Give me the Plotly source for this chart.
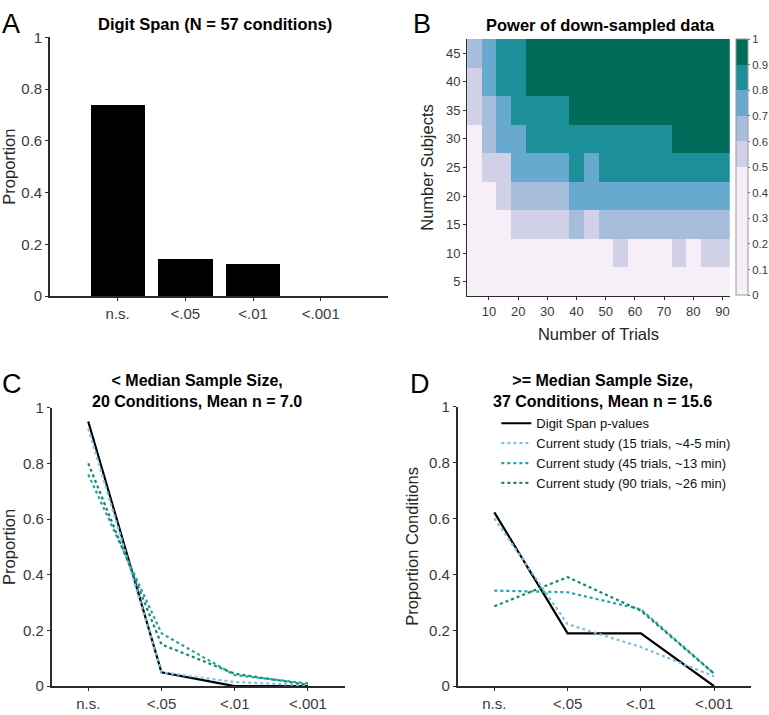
import plotly.graph_objects as go

W, H = 769, 715
FONT = "Liberation Sans, Arial, Helvetica, sans-serif"

# ---------------- data ----------------
p_categories = ["n.s.", "<.05", "<.01", "<.001"]
cat_pos = [1, 2, 3, 4]

# Panel A: Digit Span proportions (N = 57 conditions)
digit_span_all = [0.737, 0.140, 0.123, 0.0]

# Panel B: power of down-sampled data
trials = [5, 10, 15, 20, 25, 30, 35, 40, 45, 50, 55, 60, 65, 70, 75, 80, 85, 90]
subjects = [5, 10, 15, 20, 25, 30, 35, 40, 45]
power_s05 = [0.10, 0.13, 0.15, 0.17, 0.18, 0.20, 0.21, 0.22, 0.22, 0.23, 0.24, 0.24, 0.25, 0.25, 0.26, 0.26, 0.27, 0.27]
power_s10 = [0.21, 0.28, 0.33, 0.38, 0.41, 0.43, 0.44, 0.46, 0.47, 0.48, 0.51, 0.49, 0.48, 0.49, 0.51, 0.49, 0.51, 0.52]
power_s15 = [0.30, 0.40, 0.46, 0.54, 0.56, 0.58, 0.59, 0.61, 0.59, 0.62, 0.63, 0.64, 0.64, 0.65, 0.66, 0.66, 0.67, 0.67]
power_s20 = [0.37, 0.47, 0.53, 0.63, 0.66, 0.68, 0.69, 0.71, 0.72, 0.73, 0.74, 0.75, 0.75, 0.76, 0.77, 0.77, 0.78, 0.78]
power_s25 = [0.42, 0.56, 0.59, 0.72, 0.75, 0.77, 0.79, 0.81, 0.79, 0.82, 0.83, 0.84, 0.84, 0.85, 0.86, 0.86, 0.87, 0.87]
power_s30 = [0.46, 0.63, 0.72, 0.78, 0.82, 0.84, 0.86, 0.87, 0.87, 0.88, 0.88, 0.89, 0.89, 0.89, 0.905, 0.91, 0.91, 0.92]
power_s35 = [0.53, 0.66, 0.77, 0.84, 0.87, 0.89, 0.89, 0.91, 0.92, 0.93, 0.93, 0.94, 0.94, 0.94, 0.95, 0.95, 0.95, 0.96]
power_s40 = [0.57, 0.73, 0.83, 0.88, 0.91, 0.93, 0.94, 0.95, 0.96, 0.96, 0.97, 0.97, 0.97, 0.98, 0.98, 0.98, 0.98, 0.99]
power_s45 = [0.65, 0.76, 0.86, 0.89, 0.92, 0.94, 0.95, 0.96, 0.97, 0.97, 0.98, 0.98, 0.98, 0.99, 0.99, 0.99, 0.99, 0.99]
power = [power_s05, power_s10, power_s15, power_s20, power_s25,
         power_s30, power_s35, power_s40, power_s45]

power_breaks = [0.0, 0.5, 0.6, 0.7, 0.8, 0.9, 1.0]
power_colors = ["#f6eff7", "#d0d1e6", "#a6bddb", "#67a9cf", "#1c9099", "#016c59"]
cbar_ticks = [0, 0.1, 0.2, 0.3, 0.4, 0.5, 0.6, 0.7, 0.8, 0.9, 1]
cbar_labels = ["0", "0.1", "0.2", "0.3", "0.4", "0.5", "0.6", "0.7", "0.8", "0.9", "1"]

# Panel C: < median sample size
c_digit = [0.95, 0.05, 0.0, 0.0]
c_15 = [0.925, 0.05, 0.015, 0.003]
c_45 = [0.76, 0.19, 0.04, 0.01]
c_90 = [0.80, 0.15, 0.045, 0.005]

# Panel D: >= median sample size
d_digit = [0.622, 0.189, 0.189, 0.0]
d_15 = [0.60, 0.222, 0.14, 0.035]
d_45 = [0.342, 0.336, 0.275, 0.045]
d_90 = [0.286, 0.39, 0.27, 0.045]

series_names = ["Digit Span p-values",
                "Current study (15 trials, ~4-5 min)",
                "Current study (45 trials, ~13 min)",
                "Current study (90 trials, ~26 min)"]
series_colors = ["#000000", "#7cc0e6", "#1fa5a8", "#128a6e"]

prop_ticks = [0, 0.2, 0.4, 0.6, 0.8, 1]
prop_labels = ["0", "0.2", "0.4", "0.6", "0.8", "1"]
trial_ticks = [10, 20, 30, 40, 50, 60, 70, 80, 90]
subject_ticks = [5, 10, 15, 20, 25, 30, 35, 40, 45]

# ---------------- helpers ----------------
def px(x):
    return x / W

def py(y):
    return 1 - y / H

AX_COLOR = "#2b2b2b"
TICK_FONT = dict(family=FONT, size=15, color="#3a3a3a")

def base_axis(**kw):
    d = dict(showline=True, linecolor=AX_COLOR, linewidth=1.5, ticks="outside",
             ticklen=3, tickwidth=1.2, tickcolor=AX_COLOR, showgrid=False,
             zeroline=False, tickfont=TICK_FONT, fixedrange=True)
    d.update(kw)
    return d

# discrete colorscale
cs = []
for i, c in enumerate(power_colors):
    cs.append([power_breaks[i], c])
    cs.append([power_breaks[i + 1], c])

fig = go.Figure()

# Panel A bars
fig.add_trace(go.Bar(x=cat_pos, y=digit_span_all, width=0.8,
                     marker=dict(color="#000000", line=dict(width=0)),
                     showlegend=False, xaxis="x", yaxis="y"))

# Panel B heatmap
fig.add_trace(go.Heatmap(x=trials, y=subjects, z=power, zmin=0, zmax=1,
                         colorscale=cs, xaxis="x2", yaxis="y2", showlegend=False,
                         colorbar=dict(x=px(736.7), xanchor="left", xpad=0, ypad=0,
                                       y=py(162), yanchor="middle",
                                       len=(293.3 - 30.7) / H, lenmode="fraction",
                                       thickness=12.3, thicknessmode="pixels",
                                       outlinecolor="#9a9a9a", outlinewidth=1,
                                       tickvals=cbar_ticks, ticktext=cbar_labels,
                                       ticks="outside", ticklen=2, tickcolor="#666",
                                       tickfont=dict(family=FONT, size=11.3, color="#3a3a3a"))))

# Panels C & D lines
for data, xa, ya, leg in [((c_digit, c_15, c_45, c_90), "x3", "y3", False),
                          ((d_digit, d_15, d_45, d_90), "x4", "y4", True)]:
    for i, vals in enumerate(data):
        fig.add_trace(go.Scatter(
            x=cat_pos, y=vals, mode="lines", name=series_names[i],
            line=dict(color=series_colors[i], width=2.2,
                      dash="solid" if i == 0 else "dot"),
            showlegend=leg, xaxis=xa, yaxis=ya))

AXT = dict(family=FONT, size=16.5, color="#262626")

layout = dict(
    width=W, height=H, margin=dict(l=0, r=0, t=0, b=0),
    paper_bgcolor="white", plot_bgcolor="white",
    font=dict(family=FONT, color="#262626"),
    bargap=0,
    xaxis=base_axis(domain=[px(50), px(389)], range=[0, 5], tickvals=cat_pos,
                    ticktext=p_categories, anchor="y"),
    yaxis=base_axis(domain=[py(294), py(29)], range=[0, 1], tickvals=prop_ticks,
                    ticktext=prop_labels, anchor="x",
                    title=dict(text="Proportion", font=AXT, standoff=6)),
    xaxis2=base_axis(domain=[px(467.7), px(730.7)], range=[2.5, 92.5],
                     tickvals=trial_ticks, anchor="y2", linewidth=1.2,
                     tickfont=dict(family=FONT, size=13, color="#3a3a3a"),
                     title=dict(text="Number of Trials", font=AXT, standoff=10)),
    yaxis2=base_axis(domain=[py(294), py(30.7)], range=[2.5, 47.5],
                     tickvals=subject_ticks, anchor="x2", linewidth=1.2,
                     tickfont=dict(family=FONT, size=13, color="#3a3a3a"),
                     title=dict(text="Number Subjects", font=AXT, standoff=8)),
    xaxis3=base_axis(domain=[px(51.7), px(345)], range=[0.5, 4.5], tickvals=cat_pos,
                     ticktext=p_categories, anchor="y3"),
    yaxis3=base_axis(domain=[py(693.7), py(408.3)], range=[0, 1], tickvals=prop_ticks,
                     ticktext=prop_labels, anchor="x3",
                     title=dict(text="Proportion", font=AXT, standoff=6)),
    xaxis4=base_axis(domain=[px(458.3), px(751.7)], range=[0.5, 4.5], tickvals=cat_pos,
                     ticktext=p_categories, anchor="y4"),
    yaxis4=base_axis(domain=[py(693.7), py(407.3)], range=[0, 1], tickvals=prop_ticks,
                     ticktext=prop_labels, anchor="x4",
                     title=dict(text="Proportion Conditions", font=AXT, standoff=6)),
    legend=dict(x=px(497), y=py(409), xanchor="left", yanchor="top",
                bgcolor="rgba(0,0,0,0)", borderwidth=0,
                font=dict(family=FONT, size=13, color="#111111")),
)
fig.update_layout(**layout)

TITLE_FONT = dict(family=FONT, size=16, color="#000000")
LETTER_FONT = dict(family=FONT, size=27, color="#000000")

annos = [
    dict(text="<b>Digit Span (N = 57 conditions)</b>", x=px(215.5), y=py(15), font=dict(TITLE_FONT, size=16.5)),
    dict(text="<b>Power of down-sampled data</b>", x=px(601.5), y=py(16), font=dict(TITLE_FONT, size=16.5)),
    dict(text="<b>&lt; Median Sample Size,<br>20 Conditions, Mean n = 7.0</b>", x=px(197), y=py(391), font=TITLE_FONT),
    dict(text="<b>&gt;= Median Sample Size,<br>37 Conditions, Mean n = 15.6</b>", x=px(603.5), y=py(391), font=TITLE_FONT),
    dict(text="A", x=px(11), y=py(15), font=LETTER_FONT),
    dict(text="B", x=px(423), y=py(15), font=LETTER_FONT),
    dict(text="C", x=px(12), y=py(384), font=LETTER_FONT),
    dict(text="D", x=px(421), y=py(384), font=LETTER_FONT),
]
for a in annos:
    fig.add_annotation(xref="paper", yref="paper", showarrow=False,
                       xanchor="center", yanchor="middle", **a)

fig.write_html("out.html",
               config={"displayModeBar": False},
               post_script="document.body.style.margin='0';document.body.style.padding='0';")
